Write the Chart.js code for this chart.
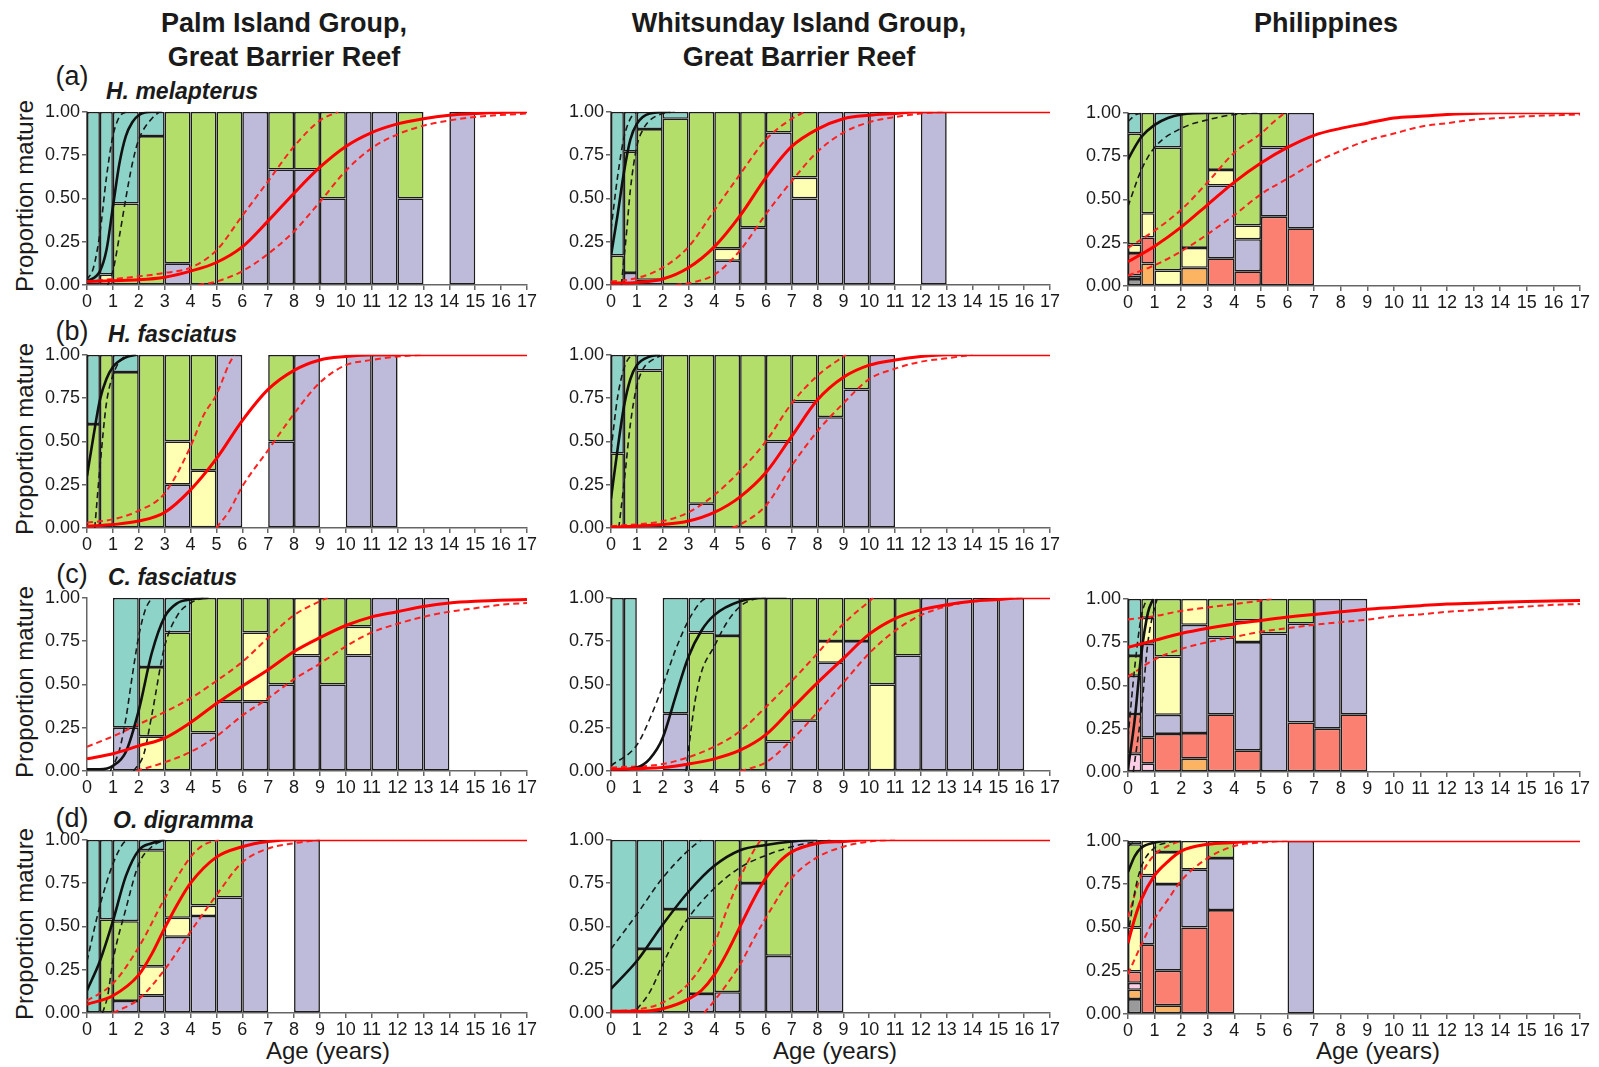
<!DOCTYPE html>
<html>
<head>
<meta charset="utf-8">
<script src="https://cdn.jsdelivr.net/npm/chart.js@4.4.1/dist/chart.umd.min.js"></script>
<style>
  body { margin: 0; background: #fff; width: 1599px; height: 1067px; position: relative; overflow: hidden;
         font-family: "Liberation Sans", Arial, sans-serif; color: #1a1a1a; }
  canvas { position: absolute; }
  .t { position: absolute; white-space: nowrap; }
  .head { font-weight: bold; font-size: 27px; line-height: 34px; text-align: center; transform: translateX(-50%); }
  .tag { font-size: 27px; transform: translate(-50%, -50%); }
  .sp { font-size: 23px; font-weight: bold; font-style: italic; transform: translateY(-50%); }
  .ytitle { font-size: 24px; transform: translate(-50%, -50%) rotate(-90deg); }
  .xtitle { font-size: 24px; transform: translate(-50%, -50%); }
</style>
</head>
<body>
<div class="t head" style="left:284px; top:6px">Palm Island Group,<br>Great Barrier Reef</div>
<div class="t head" style="left:799px; top:6px">Whitsunday Island Group,<br>Great Barrier Reef</div>
<div class="t head" style="left:1326px; top:6px">Philippines</div>

<div class="t tag" style="left:72px; top:76px">(a)</div>
<div class="t sp" style="left:106px; top:91px">H. melapterus</div>
<div class="t tag" style="left:72px; top:331px">(b)</div>
<div class="t sp" style="left:108px; top:334px">H. fasciatus</div>
<div class="t tag" style="left:72px; top:574px">(c)</div>
<div class="t sp" style="left:108px; top:577px">C. fasciatus</div>
<div class="t tag" style="left:72px; top:818px">(d)</div>
<div class="t sp" style="left:113px; top:820px">O. digramma</div>

<div class="t ytitle" style="left:25px; top:196px">Proportion mature</div>
<div class="t ytitle" style="left:25px; top:439px">Proportion mature</div>
<div class="t ytitle" style="left:25px; top:682px">Proportion mature</div>
<div class="t ytitle" style="left:25px; top:924px">Proportion mature</div>

<div class="t xtitle" style="left:328px; top:1051px">Age (years)</div>
<div class="t xtitle" style="left:835px; top:1051px">Age (years)</div>
<div class="t xtitle" style="left:1378px; top:1051px">Age (years)</div>

<script>
// stage order, bottom to top of each bar
var stages = ['grey', 'orange', 'pink', 'red', 'purple', 'yellow', 'green', 'teal'];
var stageColors = ['#9a9a9a', '#fdb462', '#fccde5', '#fb8072', '#bebada', '#ffffb3', '#b3de69', '#8dd3c7'];

var ageTicks = [0, 17];
var propTicks = [0, 0.25, 0.5, 0.75, 1];

// bins: [from, to, grey, orange, pink, red, purple, yellow, green, teal]
var palmA_bins = [
  [0, 0.5, 0, 0, 0, 0, 0, 0, 0, 1],
  [0.5, 1, 0, 0, 0, 0, 0, 0.06, 0, 0.94],
  [1, 2, 0, 0, 0, 0, 0, 0, 0.47, 0.53],
  [2, 3, 0, 0, 0, 0, 0, 0, 0.86, 0.14],
  [3, 4, 0, 0, 0, 0, 0.125, 0, 0.875, 0],
  [4, 5, 0, 0, 0, 0, 0, 0, 1, 0],
  [5, 6, 0, 0, 0, 0, 0, 0, 1, 0],
  [6, 7, 0, 0, 0, 0, 1, 0, 0, 0],
  [7, 8, 0, 0, 0, 0, 0.667, 0, 0.333, 0],
  [8, 9, 0, 0, 0, 0, 0.667, 0, 0.333, 0],
  [9, 10, 0, 0, 0, 0, 0.5, 0, 0.5, 0],
  [10, 11, 0, 0, 0, 0, 1, 0, 0, 0],
  [11, 12, 0, 0, 0, 0, 1, 0, 0, 0],
  [12, 13, 0, 0, 0, 0, 0.5, 0, 0.5, 0],
  [14, 15, 0, 0, 0, 0, 1, 0, 0, 0]
];
var palmA_black = [[0,0.02],[0.5,0.08],[0.75,0.2],[1,0.45],[1.25,0.7],[1.5,0.86],[1.75,0.94],[2,0.98],[2.5,1],[2.9,1]];
var palmA_blackHi = [[0,0.03],[0.25,0.1],[0.5,0.3],[0.75,0.62],[1,0.86],[1.25,0.97],[1.5,1]];
var palmA_blackLo = [[0.8,0],[1,0.08],[1.25,0.28],[1.5,0.5],[1.75,0.7],[2,0.84],[2.5,0.96],[2.8,1]];
var palmA_red = [[0,0.02],[1,0.025],[2,0.03],[3,0.045],[4,0.08],[5,0.13],[6,0.22],[7,0.37],[8,0.53],[9,0.68],[10,0.8],[11,0.88],[12,0.93],[13,0.96],[14,0.98],[15,0.99],[17,1]];
var palmA_redHi = [[0,0.02],[2,0.05],[3,0.07],[4,0.1],[5,0.2],[6,0.4],[7,0.6],[8,0.8],[9,0.95],[9.7,1]];
var palmA_redLo = [[4.3,0],[5,0.02],[6,0.08],[7,0.18],[8,0.31],[9,0.48],[10,0.66],[11,0.79],[12,0.87],[13,0.92],[14,0.95],[15,0.97],[17,0.99]];

var palmB_bins = [
  [0, 0.5, 0, 0, 0, 0, 0, 0, 0.6, 0.4],
  [0.5, 1, 0, 0, 0, 0, 0, 0, 1, 0],
  [1, 2, 0, 0, 0, 0, 0, 0, 0.9, 0.1],
  [2, 3, 0, 0, 0, 0, 0, 0, 1, 0],
  [3, 4, 0, 0, 0, 0, 0.25, 0.25, 0.5, 0],
  [4, 5, 0, 0, 0, 0, 0, 0.333, 0.667, 0],
  [5, 6, 0, 0, 0, 0, 1, 0, 0, 0],
  [7, 8, 0, 0, 0, 0, 0.5, 0, 0.5, 0],
  [8, 9, 0, 0, 0, 0, 1, 0, 0, 0],
  [10, 11, 0, 0, 0, 0, 1, 0, 0, 0],
  [11, 12, 0, 0, 0, 0, 1, 0, 0, 0]
];
var palmB_black = [[0,0.3],[0.25,0.53],[0.5,0.74],[0.75,0.86],[1,0.93],[1.5,0.985],[1.9,1]];
var palmB_blackLo = [[0.3,0],[0.5,0.35],[0.75,0.72],[1,0.88],[1.3,0.97],[1.6,1]];
var palmB_red = [[0,0.01],[1,0.02],[2,0.04],[3,0.09],[4,0.22],[5,0.4],[6,0.62],[7,0.8],[8,0.91],[9,0.97],[10,0.99],[11,1],[17,1]];
var palmB_redHi = [[0,0.03],[1,0.05],[2,0.1],[3,0.2],[4,0.47],[4.5,0.65],[5,0.77],[5.5,0.95],[5.7,1]];
var palmB_redLo = [[5,0],[5.5,0.1],[6,0.24],[7,0.45],[8,0.66],[9,0.84],[10,0.94],[11,0.97],[12,0.99],[13,1]];

var palmC_bins = [
  [1, 2, 0, 0, 0, 0, 0.25, 0, 0, 0.75],
  [2, 3, 0, 0, 0, 0, 0, 0.2, 0.4, 0.4],
  [3, 4, 0, 0, 0, 0, 0, 0, 0.8, 0.2],
  [4, 5, 0, 0, 0, 0, 0.222, 0, 0.778, 0],
  [5, 6, 0, 0, 0, 0, 0.4, 0, 0.6, 0],
  [6, 7, 0, 0, 0, 0, 0.4, 0.4, 0.2, 0],
  [7, 8, 0, 0, 0, 0, 0.5, 0, 0.5, 0],
  [8, 9, 0, 0, 0, 0, 0.667, 0.333, 0, 0],
  [9, 10, 0, 0, 0, 0, 0.5, 0, 0.5, 0],
  [10, 11, 0, 0, 0, 0, 0.667, 0.167, 0.166, 0],
  [11, 12, 0, 0, 0, 0, 1, 0, 0, 0],
  [12, 13, 0, 0, 0, 0, 1, 0, 0, 0],
  [13, 14, 0, 0, 0, 0, 1, 0, 0, 0]
];
var palmC_black = [[0,0.01],[0.5,0.01],[1,0.03],[1.5,0.11],[2,0.35],[2.5,0.68],[3,0.89],[3.5,0.97],[4,0.99],[4.7,1]];
var palmC_blackHi = [[0.9,0],[1.25,0.12],[1.5,0.3],[1.75,0.55],[2,0.78],[2.25,0.93],[2.5,1]];
var palmC_blackLo = [[1.8,0],[2.2,0.1],[2.5,0.32],[3,0.72],[3.5,0.9],[4,0.97],[4.5,1]];
var palmC_red = [[0,0.07],[1,0.1],[2,0.145],[3,0.19],[4,0.28],[5,0.39],[6,0.49],[7,0.585],[8,0.69],[9,0.77],[10,0.84],[11,0.89],[12,0.92],[13,0.95],[14,0.97],[15,0.98],[17,0.99]];
var palmC_redHi = [[0,0.14],[1,0.2],[2,0.27],[3,0.34],[4,0.42],[5,0.52],[6,0.63],[7,0.77],[8,0.9],[9,0.98],[9.3,1]];
var palmC_redLo = [[1.9,0],[3,0.05],[4,0.11],[5,0.2],[6,0.32],[7,0.42],[8,0.53],[9,0.62],[10,0.72],[11,0.8],[12,0.85],[13,0.89],[14,0.92],[15,0.94],[16,0.96],[17,0.97]];

var palmD_bins = [
  [0, 0.5, 0, 0, 0, 0, 0, 0, 0, 1],
  [0.5, 1, 0, 0, 0, 0, 0, 0, 0.54, 0.46],
  [1, 2, 0, 0, 0, 0, 0.07, 0, 0.46, 0.47],
  [2, 3, 0, 0, 0, 0, 0.1, 0.17, 0.67, 0.06],
  [3, 4, 0, 0, 0, 0, 0.44, 0.11, 0.45, 0],
  [4, 5, 0, 0, 0, 0, 0.56, 0.06, 0.38, 0],
  [5, 6, 0, 0, 0, 0, 0.667, 0, 0.333, 0],
  [6, 7, 0, 0, 0, 0, 1, 0, 0, 0],
  [8, 9, 0, 0, 0, 0, 1, 0, 0, 0]
];
var palmD_black = [[0,0.13],[0.5,0.3],[1,0.53],[1.5,0.79],[2,0.94],[2.5,0.98],[3,1]];
var palmD_blackHi = [[0,0.3],[0.5,0.62],[1,0.86],[1.4,0.98],[1.6,1]];
var palmD_blackLo = [[0.6,0],[0.8,0.1],[1,0.3],[1.5,0.6],[2,0.86],[2.5,0.96],[3,1]];
var palmD_red = [[0,0.05],[1,0.1],[2,0.22],[2.5,0.34],[3,0.49],[3.5,0.63],[4,0.75],[5,0.9],[6,0.96],[7,0.99],[8,1],[17,1]];
var palmD_redHi = [[0,0.07],[1,0.17],[2,0.38],[3,0.66],[4,0.9],[4.5,0.97],[5.1,1]];
var palmD_redLo = [[1,0],[2,0.08],[3,0.25],[4,0.47],[5,0.68],[6,0.87],[7,0.95],[8,0.98],[9,1]];

var whitA_bins = [
  [0, 0.5, 0, 0, 0, 0, 0, 0, 0.17, 0.83],
  [0.5, 1, 0, 0, 0, 0, 0.07, 0, 0.7, 0.23],
  [1, 2, 0, 0, 0, 0, 0.03, 0, 0.87, 0.1],
  [2, 3, 0, 0, 0, 0, 0, 0, 0.96, 0.04],
  [3, 4, 0, 0, 0, 0, 0, 0, 1, 0],
  [4, 5, 0, 0, 0, 0, 0.14, 0.07, 0.79, 0],
  [5, 6, 0, 0, 0, 0, 0.333, 0, 0.667, 0],
  [6, 7, 0, 0, 0, 0, 0.88, 0, 0.12, 0],
  [7, 8, 0, 0, 0, 0, 0.5, 0.12, 0.38, 0],
  [8, 9, 0, 0, 0, 0, 1, 0, 0, 0],
  [9, 10, 0, 0, 0, 0, 1, 0, 0, 0],
  [10, 11, 0, 0, 0, 0, 1, 0, 0, 0],
  [12, 13, 0, 0, 0, 0, 1, 0, 0, 0]
];
var whitA_black = [[0,0.17],[0.25,0.4],[0.5,0.65],[0.75,0.84],[1,0.93],[1.5,0.99],[2.3,1]];
var whitA_blackHi = [[0,0.32],[0.25,0.62],[0.5,0.85],[0.75,0.96],[1,1]];
var whitA_blackLo = [[0.4,0],[0.6,0.3],[0.75,0.55],[1,0.8],[1.25,0.9],[1.5,0.95],[2,0.99],[2.5,1]];
var whitA_red = [[0,0.01],[1,0.015],[2,0.035],[3,0.1],[4,0.22],[5,0.4],[6,0.62],[7,0.8],[8,0.9],[9,0.96],[10,0.98],[11,0.99],[12,1],[17,1]];
var whitA_redHi = [[0,0.02],[1,0.04],[2,0.1],[3,0.22],[4,0.43],[5,0.64],[6,0.84],[7,0.96],[7.5,1]];
var whitA_redLo = [[2.5,0],[3,0.01],[4,0.06],[5,0.2],[6,0.41],[7,0.6],[8,0.77],[9,0.88],[10,0.94],[11,0.97],[12,0.99],[13,1]];

var whitB_bins = [
  [0, 0.5, 0, 0, 0, 0, 0, 0, 0.43, 0.57],
  [0.5, 1, 0, 0, 0, 0, 0, 0, 1, 0],
  [1, 2, 0, 0, 0, 0, 0, 0, 0.91, 0.09],
  [2, 3, 0, 0, 0, 0, 0, 0, 1, 0],
  [3, 4, 0, 0, 0, 0, 0.14, 0, 0.86, 0],
  [4, 5, 0, 0, 0, 0, 0, 0, 1, 0],
  [5, 6, 0, 0, 0, 0, 0, 0, 1, 0],
  [6, 7, 0, 0, 0, 0, 0.5, 0, 0.5, 0],
  [7, 8, 0, 0, 0, 0, 0.73, 0, 0.27, 0],
  [8, 9, 0, 0, 0, 0, 0.64, 0, 0.36, 0],
  [9, 10, 0, 0, 0, 0, 0.8, 0, 0.2, 0],
  [10, 11, 0, 0, 0, 0, 1, 0, 0, 0]
];
var whitB_black = [[0,0.17],[0.25,0.45],[0.5,0.7],[0.75,0.86],[1,0.94],[1.5,0.99],[1.9,1]];
var whitB_blackHi = [[0,0.45],[0.25,0.75],[0.5,0.92],[0.75,0.99],[1,1]];
var whitB_blackLo = [[0.3,0],[0.5,0.25],[0.75,0.6],[1,0.82],[1.25,0.92],[1.5,0.96],[2,1]];
var whitB_red = [[0,0.005],[2,0.02],[3,0.04],[4,0.09],[5,0.18],[6,0.32],[7,0.53],[8,0.74],[9,0.87],[10,0.94],[11,0.97],[12,0.99],[13,1],[17,1]];
var whitB_redHi = [[0,0.01],[2,0.04],[3,0.09],[4,0.19],[5,0.33],[6,0.5],[7,0.72],[8,0.88],[9,0.99],[9.1,1]];
var whitB_redLo = [[4.7,0],[5,0.02],[6,0.13],[7,0.36],[8,0.56],[9,0.72],[10,0.86],[11,0.92],[12,0.96],[13,0.98],[14,1]];

var whitC_bins = [
  [0, 0.5, 0, 0, 0, 0, 0, 0, 0, 1],
  [0.5, 1, 0, 0, 0, 0, 0, 0, 0, 1],
  [2, 3, 0, 0, 0, 0, 0.333, 0, 0, 0.667],
  [3, 4, 0, 0, 0, 0, 0, 0, 0.8, 0.2],
  [4, 5, 0, 0, 0, 0, 0, 0, 0.78, 0.22],
  [5, 6, 0, 0, 0, 0, 0, 0, 1, 0],
  [6, 7, 0, 0, 0, 0, 0.17, 0, 0.83, 0],
  [7, 8, 0, 0, 0, 0, 0.29, 0, 0.71, 0],
  [8, 9, 0, 0, 0, 0, 0.625, 0.125, 0.25, 0],
  [9, 10, 0, 0, 0, 0, 0.75, 0, 0.25, 0],
  [10, 11, 0, 0, 0, 0, 0, 0.5, 0.5, 0],
  [11, 12, 0, 0, 0, 0, 0.667, 0, 0.333, 0],
  [12, 13, 0, 0, 0, 0, 1, 0, 0, 0],
  [13, 14, 0, 0, 0, 0, 1, 0, 0, 0],
  [14, 15, 0, 0, 0, 0, 1, 0, 0, 0],
  [15, 16, 0, 0, 0, 0, 1, 0, 0, 0]
];
var whitC_black = [[0,0.005],[1,0.02],[1.5,0.07],[2,0.19],[2.5,0.43],[3,0.66],[3.5,0.81],[4,0.9],[5,0.98],[6,1],[6.8,1]];
var whitC_blackHi = [[0,0.03],[1,0.15],[1.5,0.3],[2,0.49],[2.5,0.7],[3,0.87],[3.5,0.98],[3.7,1]];
var whitC_blackLo = [[2.9,0],[3,0.12],[3.25,0.4],[3.5,0.57],[4,0.72],[4.5,0.86],[5,0.95],[5.5,0.99],[6,1]];
var whitC_red = [[0,0.01],[2,0.02],[3,0.04],[4,0.07],[5,0.12],[6,0.21],[7,0.36],[8,0.51],[9,0.65],[10,0.79],[11,0.88],[12,0.93],[13,0.96],[14,0.98],[15,0.99],[16,1],[17,1]];
var whitC_redHi = [[0,0.02],[2,0.04],[3,0.08],[4,0.14],[5,0.23],[6,0.37],[7,0.52],[8,0.68],[9,0.85],[10,0.98],[10.15,1]];
var whitC_redLo = [[5,0],[5.5,0.02],[6,0.05],[7,0.18],[8,0.34],[9,0.51],[10,0.68],[11,0.81],[12,0.9],[13,0.95],[14,0.98],[15,0.99],[16,1]];

var whitD_bins = [
  [0, 1, 0, 0, 0, 0, 0, 0, 0, 1],
  [1, 2, 0, 0, 0, 0, 0, 0, 0.37, 0.63],
  [2, 3, 0, 0, 0, 0, 0, 0, 0.6, 0.4],
  [3, 4, 0, 0, 0, 0, 0.11, 0, 0.44, 0.45],
  [4, 5, 0, 0, 0, 0, 0.12, 0, 0.88, 0],
  [5, 6, 0, 0, 0, 0, 0.75, 0, 0.25, 0],
  [6, 7, 0, 0, 0, 0, 0.33, 0, 0.67, 0],
  [7, 8, 0, 0, 0, 0, 1, 0, 0, 0],
  [8, 9, 0, 0, 0, 0, 1, 0, 0, 0]
];
var whitD_black = [[0,0.14],[1,0.3],[2,0.51],[3,0.7],[4,0.85],[5,0.94],[6,0.97],[7,0.99],[8,1]];
var whitD_blackHi = [[0,0.37],[1,0.57],[2,0.78],[3,0.94],[3.5,1]];
var whitD_blackLo = [[1,0.02],[1.5,0.12],[2,0.28],[2.5,0.43],[3,0.55],[4,0.72],[5,0.84],[6,0.91],[7,0.96],[8,0.99],[8.5,1]];
var whitD_red = [[0,0.01],[1,0.01],[2,0.025],[3,0.08],[3.5,0.13],[4,0.22],[4.5,0.35],[5,0.5],[5.5,0.65],[6,0.78],[6.5,0.87],[7,0.93],[8,0.98],[9,0.99],[10,1],[17,1]];
var whitD_redHi = [[0,0.01],[1,0.02],[2,0.06],[3,0.17],[4,0.4],[4.5,0.6],[5,0.78],[5.5,0.93],[5.8,1]];
var whitD_redLo = [[3.6,0],[4,0.07],[5,0.28],[5.5,0.42],[6,0.55],[7,0.78],[8,0.9],[9,0.96],[10,0.99],[11,1]];

var philA_bins = [
  [0, 0.5, 0.04, 0, 0.02, 0.13, 0, 0.05, 0.64, 0.12],
  [0.5, 1, 0, 0.13, 0, 0.15, 0, 0.14, 0.58, 0],
  [1, 2, 0, 0, 0, 0, 0, 0.09, 0.71, 0.2],
  [2, 3, 0, 0.105, 0, 0, 0, 0.115, 0.78, 0],
  [3, 4, 0, 0, 0, 0.16, 0.42, 0.09, 0.33, 0],
  [4, 5, 0, 0, 0, 0.085, 0.185, 0.08, 0.65, 0],
  [5, 6, 0, 0, 0, 0.4, 0.4, 0, 0.2, 0],
  [6, 7, 0, 0, 0, 0.333, 0.667, 0, 0, 0]
];
var philA_black = [[0,0.73],[0.25,0.8],[0.5,0.86],[1,0.93],[1.5,0.97],[2,0.99],[3,1],[4,1]];
var philA_blackHi = [[0,0.95],[0.3,0.99],[0.6,1]];
var philA_blackLo = [[0,0.46],[0.5,0.67],[1,0.8],[2,0.91],[3,0.96],[4,0.99],[5,1]];
var philA_red = [[0,0.14],[1,0.23],[2,0.34],[3,0.47],[4,0.6],[5,0.71],[6,0.8],[7,0.87],[8,0.91],[9,0.94],[10,0.97],[11,0.98],[12,0.99],[14,1],[17,1]];
var philA_redHi = [[0,0.22],[1,0.32],[2,0.44],[3,0.6],[4,0.77],[5,0.88],[5.5,0.95],[5.9,1]];
var philA_redLo = [[0,0.06],[1,0.12],[2,0.2],[3,0.3],[4,0.41],[5,0.53],[6,0.62],[7,0.71],[8,0.78],[9,0.84],[10,0.88],[11,0.92],[12,0.94],[13,0.96],[14,0.97],[15,0.98],[17,0.99]];

var philC_bins = [
  [0, 0.5, 0, 0, 0.105, 0.23, 0.22, 0, 0.115, 0.33],
  [0.5, 1, 0, 0, 0.05, 0.15, 0.54, 0.15, 0.11, 0],
  [1, 2, 0, 0, 0, 0.22, 0.11, 0.337, 0.333, 0],
  [2, 3, 0, 0.077, 0, 0.148, 0.625, 0.15, 0, 0],
  [3, 4, 0, 0, 0, 0.333, 0.444, 0, 0.223, 0],
  [4, 5, 0, 0, 0, 0.125, 0.625, 0.125, 0.125, 0],
  [5, 6, 0, 0, 0, 0, 0.8, 0, 0.2, 0],
  [6, 7, 0, 0, 0, 0.286, 0.571, 0, 0.143, 0],
  [7, 8, 0, 0, 0, 0.25, 0.75, 0, 0, 0],
  [8, 9, 0, 0, 0, 0.333, 0.667, 0, 0, 0]
];
var philC_black = [[0,0.02],[0.25,0.3],[0.5,0.68],[0.75,0.92],[0.95,1]];
var philC_blackHi = [[0,0.2],[0.25,0.6],[0.5,0.9],[0.7,1]];
var philC_blackLo = [[0.2,0],[0.5,0.35],[0.75,0.75],[1,0.95],[1.1,1]];
var philC_red = [[0,0.72],[1,0.76],[2,0.8],[3,0.83],[4,0.855],[5,0.875],[6,0.895],[7,0.91],[8,0.925],[9,0.94],[10,0.95],[11,0.96],[12,0.97],[13,0.975],[14,0.98],[15,0.985],[17,0.99]];
var philC_redHi = [[0,0.88],[1,0.9],[2,0.93],[3,0.95],[4,0.97],[5,0.99],[5.4,1]];
var philC_redLo = [[0,0.55],[1,0.65],[2,0.71],[3,0.75],[4,0.78],[5,0.81],[6,0.83],[7,0.85],[8,0.865],[9,0.88],[10,0.9],[11,0.91],[12,0.925],[13,0.935],[14,0.945],[15,0.955],[16,0.965],[17,0.97]];

var philD_bins = [
  [0, 0.5, 0.086, 0.054, 0.04, 0.065, 0, 0.255, 0.48, 0.02],
  [0.5, 1, 0, 0, 0, 0.4, 0.4, 0.2, 0, 0],
  [1, 2, 0, 0.05, 0, 0.2, 0.5, 0.185, 0.065, 0],
  [2, 3, 0, 0, 0, 0.5, 0.333, 0.167, 0, 0],
  [3, 4, 0, 0, 0, 0.6, 0.3, 0, 0.1, 0],
  [6, 7, 0, 0, 0, 0, 1, 0, 0, 0]
];
var philD_black = [[0,0.82],[0.25,0.91],[0.5,0.96],[1,0.99],[1.5,1],[2,1]];
var philD_blackHi = [[0,0.97],[0.3,1]];
var philD_blackLo = [[0,0.45],[0.25,0.7],[0.5,0.85],[1,0.96],[1.5,0.99],[2,1]];
var philD_red = [[0,0.41],[0.25,0.55],[0.5,0.66],[1,0.8],[1.5,0.88],[2,0.94],[3,0.98],[4,0.99],[5,1],[17,1]];
var philD_redHi = [[0,0.56],[0.5,0.8],[1,0.92],[1.5,0.97],[2,1]];
var philD_redLo = [[0,0.23],[0.5,0.4],[1,0.55],[1.5,0.66],[2,0.77],[3,0.9],[4,0.97],[5,0.99],[6,1]];

// col / row of each panel
var panels = [
  { col: 0, row: 0, bins: palmA_bins, black: palmA_black, blackHi: palmA_blackHi, blackLo: palmA_blackLo, red: palmA_red, redHi: palmA_redHi, redLo: palmA_redLo },
  { col: 1, row: 0, bins: whitA_bins, black: whitA_black, blackHi: whitA_blackHi, blackLo: whitA_blackLo, red: whitA_red, redHi: whitA_redHi, redLo: whitA_redLo },
  { col: 2, row: 0, bins: philA_bins, black: philA_black, blackHi: philA_blackHi, blackLo: philA_blackLo, red: philA_red, redHi: philA_redHi, redLo: philA_redLo },
  { col: 0, row: 1, bins: palmB_bins, black: palmB_black, blackLo: palmB_blackLo, red: palmB_red, redHi: palmB_redHi, redLo: palmB_redLo },
  { col: 1, row: 1, bins: whitB_bins, black: whitB_black, blackHi: whitB_blackHi, blackLo: whitB_blackLo, red: whitB_red, redHi: whitB_redHi, redLo: whitB_redLo },
  { col: 0, row: 2, bins: palmC_bins, black: palmC_black, blackHi: palmC_blackHi, blackLo: palmC_blackLo, red: palmC_red, redHi: palmC_redHi, redLo: palmC_redLo },
  { col: 1, row: 2, bins: whitC_bins, black: whitC_black, blackHi: whitC_blackHi, blackLo: whitC_blackLo, red: whitC_red, redHi: whitC_redHi, redLo: whitC_redLo },
  { col: 2, row: 2, bins: philC_bins, black: philC_black, blackHi: philC_blackHi, blackLo: philC_blackLo, red: philC_red, redHi: philC_redHi, redLo: philC_redLo },
  { col: 0, row: 3, bins: palmD_bins, black: palmD_black, blackHi: palmD_blackHi, blackLo: palmD_blackLo, red: palmD_red, redHi: palmD_redHi, redLo: palmD_redLo },
  { col: 1, row: 3, bins: whitD_bins, black: whitD_black, blackHi: whitD_blackHi, blackLo: whitD_blackLo, red: whitD_red, redHi: whitD_redHi, redLo: whitD_redLo },
  { col: 2, row: 3, bins: philD_bins, black: philD_black, blackHi: philD_blackHi, blackLo: philD_blackLo, red: philD_red, redHi: philD_redHi, redLo: philD_redLo }
];

// plot-area placement (px)
var colLeft = [87, 611, 1128];
var colWidth = [440, 439, 452];
var rowTop = [111, 354, 597, 839];
var plotH = 174;
var Y_W = 50, X_H = 30, PAD_T = 12, PAD_R = 16;

Chart.defaults.font.family = '"Liberation Sans", Arial, sans-serif';
Chart.defaults.font.size = 18;
Chart.defaults.color = '#1a1a1a';

function barSets(rows) {
  var hasHalf = rows.some(function (r) { return r[1] - r[0] < 1; });
  var unit = hasHalf ? 0.5 : 1;
  var sets = [];
  stages.forEach(function (st, k) {
    [0.5, 1].forEach(function (w) {
      var data = [];
      rows.forEach(function (r) {
        if (Math.abs(r[1] - r[0] - w) > 1e-6) return;
        var v = r[2 + k];
        if (!(v > 0)) return;
        var lo = 0;
        for (var j = 0; j < k; j++) lo += r[2 + j];
        data.push({ x: (r[0] + r[1]) / 2, y: [lo, Math.min(1, lo + v)] });
      });
      if (data.length) {
        sets.push({
          type: 'bar', label: st, data: data,
          backgroundColor: stageColors[k], borderColor: '#1c1c1c', borderWidth: 1.6,
          borderSkipped: false, grouped: false, inflateAmount: 0,
          barPercentage: w / unit, categoryPercentage: 1, order: 5
        });
      }
    });
  });
  return sets;
}

function curve(pts, color, width, dashed, order) {
  return {
    type: 'line', data: pts.map(function (p) { return { x: p[0], y: p[1] }; }),
    borderColor: color, borderWidth: width, borderDash: dashed ? [6, 4] : [],
    pointRadius: 0, fill: false, cubicInterpolationMode: 'monotone', order: order
  };
}

panels.forEach(function (p) {
  var w = colWidth[p.col], left = colLeft[p.col], top = rowTop[p.row] + (p.col === 2 ? 1 : 0);
  var cv = document.createElement('canvas');
  cv.width = w + Y_W + PAD_R;
  cv.height = plotH + PAD_T + X_H;
  cv.style.left = (left - Y_W) + 'px';
  cv.style.top = (top - PAD_T) + 'px';
  document.body.appendChild(cv);

  var ds = barSets(p.bins);
  if (p.blackHi) ds.push(curve(p.blackHi, '#1a1a1a', 1.6, true, 2));
  if (p.blackLo) ds.push(curve(p.blackLo, '#1a1a1a', 1.6, true, 2));
  if (p.redHi) ds.push(curve(p.redHi, '#ff2020', 2, true, 2));
  if (p.redLo) ds.push(curve(p.redLo, '#ff2020', 2, true, 2));
  ds.push(curve(p.black, '#111111', 2.6, false, 1));
  ds.push(curve(p.red, '#ff0000', 3, false, 0));

  new Chart(cv, {
    type: 'bar',
    data: { datasets: ds },
    options: {
      responsive: false, animation: false, devicePixelRatio: 1,
      layout: { padding: { top: PAD_T, right: PAD_R, left: 0, bottom: 0 } },
      plugins: { legend: { display: false }, tooltip: { enabled: false } },
      scales: {
        x: {
          type: 'linear', min: ageTicks[0], max: ageTicks[1], offset: false,
          afterFit: function (s) { s.height = X_H; },
          grid: { drawOnChartArea: false, drawTicks: true, tickLength: 5, color: '#666', lineWidth: 1.5, offset: false },
          border: { display: true, color: '#666', width: 1.5 },
          ticks: { stepSize: 1, autoSkip: false, maxRotation: 0, minRotation: 0, padding: 1, color: '#1a1a1a' }
        },
        y: {
          type: 'linear', min: propTicks[0], max: propTicks[propTicks.length - 1],
          afterFit: function (s) { s.width = Y_W; },
          afterBuildTicks: function (s) { s.ticks = propTicks.map(function (v) { return { value: v }; }); },
          grid: { drawOnChartArea: false, drawTicks: true, tickLength: 5, color: '#666', lineWidth: 1.5 },
          border: { display: true, color: '#666', width: 1.5 },
          ticks: { padding: 2, color: '#1a1a1a', callback: function (v) { return Number(v).toFixed(2); } }
        }
      }
    }
  });
});
</script>
</body>
</html>
